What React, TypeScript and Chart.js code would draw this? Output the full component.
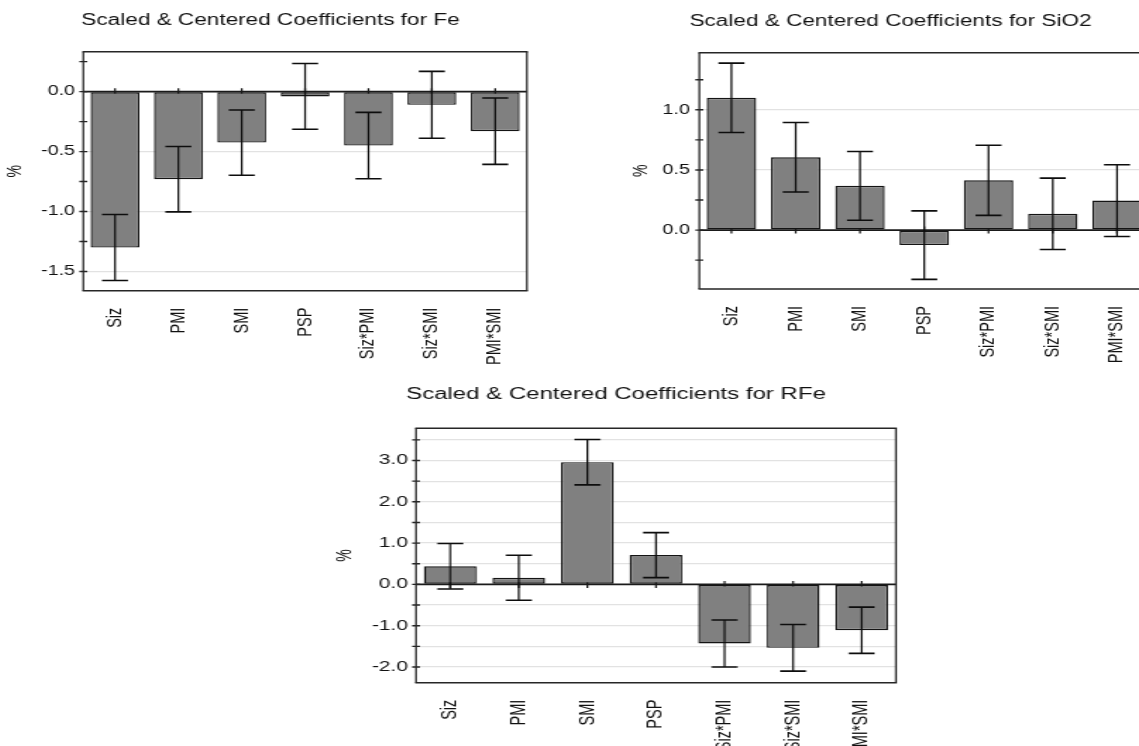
import React, { useEffect, useRef } from "react";
import { Chart, registerables } from "chart.js";

Chart.register(...registerables);

// ---------------- data ----------------
const categories = ["Siz", "PMI", "SMI", "PSP", "Siz*PMI", "Siz*SMI", "PMI*SMI"];

const feTitle = "Scaled & Centered Coefficients for Fe";
const feValues = [-1.3, -0.73, -0.425, -0.04, -0.45, -0.11, -0.33];
const feErrors = [0.275, 0.273, 0.272, 0.274, 0.277, 0.279, 0.277];

const sio2Title = "Scaled & Centered Coefficients for SiO2";
const sio2Values = [1.1, 0.605, 0.368, -0.125, 0.414, 0.135, 0.245];
const sio2Errors = [0.288, 0.289, 0.286, 0.285, 0.292, 0.297, 0.298];

const rfeTitle = "Scaled & Centered Coefficients for RFe";
const rfeValues = [0.44, 0.16, 2.96, 0.71, -1.43, -1.535, -1.11];
const rfeErrors = [0.55, 0.545, 0.55, 0.545, 0.57, 0.565, 0.56];

const yAxisTitle = "%";

// axis ranges / tick steps
const feAxis = { min: -1.66, max: 0.333, minorStep: 0.25, labelStep: 0.5, gridStep: 0.5 };
const sio2Axis = { min: -0.49, max: 1.475, minorStep: 0.25, labelStep: 0.5, gridStep: 0.5 };
const rfeAxis = { min: -2.38, max: 3.78, minorStep: 0.5, labelStep: 1, gridStep: 0.5 };

// ---------------- layout (page px) ----------------
const FONT = '"Liberation Sans", Arial, Helvetica, sans-serif';

const feLayout = { left: 4, top: 0, widthInt: 375, height: 370, sx: 1.41, areaLeft: 83.3, areaTop: 51.7, areaRight: 528, areaBottom: 290.7, titleX: 270.5, titleY: 21, tickPad: 5.9, xPad: 9 };
const sio2Layout = { left: 630, top: 0, widthInt: 372, height: 370, sx: 1.41, areaLeft: 699.3, areaTop: 52.7, areaRight: 1150.8, areaBottom: 289, titleX: 890.5, titleY: 21.5, tickPad: 6.6, xPad: 9 };
const rfeLayout = { left: 333, top: 370, widthInt: 379, height: 376, sx: 1.5, areaLeft: 416, areaTop: 428.3, areaRight: 898.3, areaBottom: 682.7, titleX: 616, titleY: 395, tickPad: 5.3, xPad: 9 };

type Axis = typeof feAxis;
type Layout = typeof feLayout;

interface PanelProps {
  title: string;
  labels: string[];
  values: number[];
  errors: number[];
  axis: Axis;
  g: Layout;
}

function Panel({ title, labels, values, errors, axis, g }: PanelProps) {
  const ref = useRef<HTMLCanvasElement | null>(null);

  useEffect(() => {
    const canvas = ref.current;
    if (!canvas) return;
    const s = g.sx;
    const yAxisW = (g.areaLeft - g.left) / s;
    const padRight = g.widthInt - (g.areaRight - g.left) / s;
    const padTop = g.areaTop - g.top;
    const xAxisH = g.top + g.height - g.areaBottom;
    const near = (v: number, step: number) => Math.abs(v / step - Math.round(v / step)) < 1e-6;
    const vLine = 1.8 / s;
    const hLine = 1.6;

    const decor = {
      id: "decor",
      beforeDatasetsDraw(chart: any) {
        const { ctx, chartArea: a, scales } = chart;
        const x = scales.x;
        const y = scales.y;
        const y0 = y.getPixelForValue(0);
        ctx.save();
        ctx.strokeStyle = "#1a1a1a";
        ctx.lineWidth = vLine;
        ctx.beginPath();
        for (let i = 0; i < labels.length; i++) {
          const px = x.getPixelForValue(i);
          ctx.moveTo(px, y0 - 3.5);
          ctx.lineTo(px, y0 + 3.5);
        }
        ctx.stroke();
        ctx.lineWidth = hLine;
        ctx.beginPath();
        ctx.moveTo(a.left, y0);
        ctx.lineTo(a.right, y0);
        ctx.stroke();
        ctx.restore();
      },
      afterDatasetsDraw(chart: any) {
        const { ctx, chartArea: a, scales } = chart;
        const y = scales.y;
        const meta = chart.getDatasetMeta(0);
        ctx.save();
        ctx.strokeStyle = "#0d0d0d";
        const cap = 13 / s;
        values.forEach((v, i) => {
          const px = meta.data[i].x;
          const e = errors[i];
          const yt = y.getPixelForValue(v + e);
          const yb = y.getPixelForValue(v - e);
          ctx.lineWidth = vLine;
          ctx.beginPath();
          ctx.moveTo(px, yt);
          ctx.lineTo(px, yb);
          ctx.stroke();
          ctx.lineWidth = hLine;
          ctx.beginPath();
          ctx.moveTo(px - cap, yt);
          ctx.lineTo(px + cap, yt);
          ctx.moveTo(px - cap, yb);
          ctx.lineTo(px + cap, yb);
          ctx.stroke();
        });
        // frame
        ctx.strokeStyle = "#262626";
        ctx.lineWidth = hLine;
        ctx.beginPath();
        ctx.moveTo(a.left - vLine / 2, a.top);
        ctx.lineTo(a.right + vLine / 2, a.top);
        ctx.moveTo(a.left - vLine / 2, a.bottom);
        ctx.lineTo(a.right + vLine / 2, a.bottom);
        ctx.stroke();
        ctx.lineWidth = vLine;
        ctx.beginPath();
        ctx.moveTo(a.left, a.top);
        ctx.lineTo(a.left, a.bottom);
        ctx.moveTo(a.right, a.top);
        ctx.lineTo(a.right, a.bottom);
        ctx.stroke();
        // y tick marks crossing the axis
        ctx.lineWidth = 1.4;
        ctx.beginPath();
        y.ticks.forEach((t: any) => {
          const py = y.getPixelForValue(t.value);
          ctx.moveTo(a.left - 4 / s, py);
          ctx.lineTo(a.left + 4 / s, py);
        });
        ctx.stroke();
        ctx.restore();
      },
      afterDraw(chart: any) {
        const { ctx } = chart;
        ctx.save();
        ctx.font = `16px ${FONT}`;
        ctx.fillStyle = "#111";
        ctx.textAlign = "center";
        ctx.textBaseline = "middle";
        ctx.fillText(title, (g.titleX - g.left) / s, g.titleY - g.top);
        ctx.restore();
      },
    };

    const chart = new Chart(canvas, {
      type: "bar",
      data: {
        labels,
        datasets: [
          {
            data: values,
            backgroundColor: "#808080",
            borderColor: "#141414",
            borderWidth: 1.4,
            borderSkipped: false,
            barPercentage: 0.77,
            categoryPercentage: 1,
          },
        ],
      },
      options: {
        responsive: false,
        animation: false,
        devicePixelRatio: 1,
        layout: { padding: { left: 0, top: padTop, right: padRight, bottom: 0 } },
        plugins: {
          legend: { display: false },
          tooltip: { enabled: false },
          title: { display: false },
        },
        scales: {
          x: {
            type: "category",
            offset: true,
            grid: { display: false },
            border: { display: false },
            ticks: {
              autoSkip: false,
              minRotation: 90,
              maxRotation: 90,
              padding: g.xPad,
              color: "#111",
              font: { family: FONT, size: 14.5 },
            },
            afterFit: (sc: any) => {
              sc.height = xAxisH;
            },
          },
          y: {
            type: "linear",
            min: axis.min,
            max: axis.max,
            grid: {
              drawTicks: false,
              lineWidth: 1.3,
              color: (c: any) => {
                const v = c.tick ? c.tick.value : NaN;
                if (Math.abs(v) < 1e-9) return "rgba(0,0,0,0)";
                return near(v, axis.gridStep) ? "#e2e2e2" : "rgba(0,0,0,0)";
              },
            },
            border: { display: false },
            ticks: {
              stepSize: axis.minorStep,
              includeBounds: false,
              autoSkip: false,
              maxTicksLimit: 100,
              padding: g.tickPad,
              color: "#111",
              font: { family: FONT, size: 14 },
              callback: (v: any) => {
                const n = Number(v);
                if (!near(n, axis.labelStep)) return "";
                if (Math.abs(n) < 1e-9) return "0.0";
                return n.toFixed(1);
              },
            },
            title: {
              display: true,
              text: yAxisTitle,
              color: "#111",
              font: { family: FONT, size: 14 },
              padding: { top: 0, bottom: 0 },
            },
            afterFit: (sc: any) => {
              sc.width = yAxisW;
            },
          },
        },
      } as any,
      plugins: [decor],
    });

    return () => {
      chart.destroy();
    };
  }, [title, labels, values, errors, axis, g]);

  return (
    <canvas
      ref={ref}
      width={g.widthInt}
      height={g.height}
      style={{
        position: "absolute",
        left: g.left,
        top: g.top,
        width: g.widthInt,
        height: g.height,
        transform: `scaleX(${g.sx})`,
        transformOrigin: "0 0",
      }}
    />
  );
}

export default function App() {
  return (
    <div
      style={{
        position: "absolute",
        left: 0,
        top: 0,
        width: 1139,
        height: 746,
        overflow: "hidden",
        background: "#ffffff",
      }}
    >
      <Panel title={feTitle} labels={categories} values={feValues} errors={feErrors} axis={feAxis} g={feLayout} />
      <Panel title={sio2Title} labels={categories} values={sio2Values} errors={sio2Errors} axis={sio2Axis} g={sio2Layout} />
      <Panel title={rfeTitle} labels={categories} values={rfeValues} errors={rfeErrors} axis={rfeAxis} g={rfeLayout} />
    </div>
  );
}
